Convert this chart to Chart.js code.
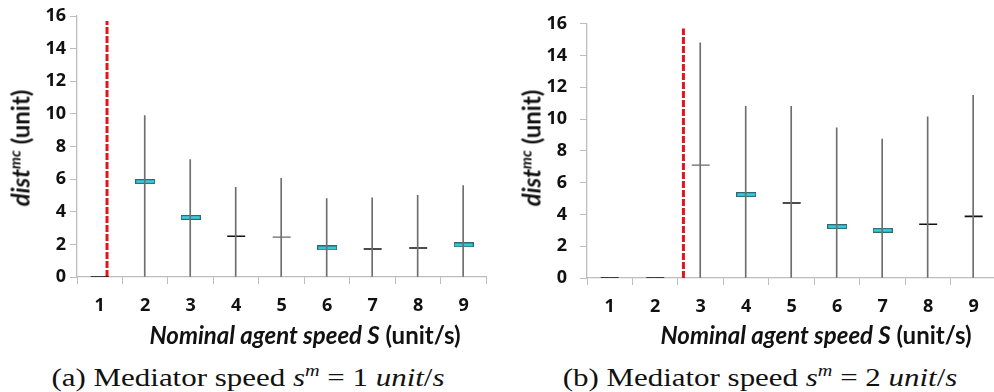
<!DOCTYPE html>
<html>
<head>
<meta charset="utf-8">
<script src="https://cdn.jsdelivr.net/npm/chart.js@4.4.1/dist/chart.umd.min.js"></script>
<style>
    html, body { margin: 0; padding: 0; background: #fff; overflow: hidden; width: 994px; height: 392px; }
    canvas { position: absolute; top: 0; }
    .txt { position: absolute; white-space: nowrap; color: #111; transform: translate(-50%, -50%); }
    .ytitle { font: bold 24px Lato, sans-serif; transform: translate(-50%, -50%) rotate(-90deg); }
    .ytitle sup { font-size: 15px; font-style: italic; }
    .xtitle { font: bold 24px Lato, sans-serif; }
    .caption { font: 26px 'Liberation Serif', serif; transform: translate(-50%, -50%) scaleX(1.19); }
    .caption sup { font-size: 17px; }
</style>
</head>
<body>
<canvas id="chartA" width="497" height="320" style="left:0"></canvas>
<canvas id="chartB" width="510" height="320" style="left:497px"></canvas>

<div class="txt ytitle" style="left:20px; top:148px"><i>dist</i><sup>mc</sup> (unit)</div>
<div class="txt ytitle" style="left:531px; top:148px"><i>dist</i><sup>mc</sup> (unit)</div>
<div class="txt xtitle" style="left:305px; top:334px"><i>Nominal agent speed S</i> (unit/s)</div>
<div class="txt xtitle" style="left:816px; top:334px"><i>Nominal agent speed S</i> (unit/s)</div>
<div class="txt caption" style="left:248px; top:377px">(a) Mediator speed <i>s</i><sup><i>m</i></sup> = 1 <i>unit</i>/<i>s</i></div>
<div class="txt caption" style="left:760px; top:377px">(b) Mediator speed <i>s</i><sup><i>m</i></sup> = 2 <i>unit</i>/<i>s</i></div>

<script>
    // nominal agent speed S
    const speeds = ['1', '2', '3', '4', '5', '6', '7', '8', '9']

    // (a) mediator speed 1 unit/s
    const maxA = [0, 9.9, 7.2, 5.5, 6.05, 4.8, 4.85, 5.0, 5.6]
    const meanA = [0, 5.85, 3.65, 2.5, 2.45, 1.78, 1.72, 1.78, 1.97]
    const markA = ['k', 'c', 'c', 'k', 'g', 'c', 'k', 'k', 'c']
    const cutA = 1.16

    // (b) mediator speed 2 unit/s
    const maxB = [0, 0, 14.8, 10.8, 10.8, 9.45, 8.75, 10.15, 11.5]
    const meanB = [0, 0, 7.1, 5.25, 4.72, 3.23, 3.0, 3.38, 3.88]
    const markB = ['k', 'k', 'g', 'c', 'k', 'c', 'c', 'k', 'k']
    const cutB = 2.62

    const cutTop = 15.7
    const yTicks = [0, 2, 4, 6, 8, 10, 12, 14, 16]

    // cyan bar with dark outline used as mean marker
    const cyanMark = (() => {
        const c = document.createElement('canvas')
        c.width = 20
        c.height = 5
        const ctx = c.getContext('2d')
        ctx.fillStyle = '#2f6a72'
        ctx.fillRect(0, 0, 20, 5)
        ctx.fillStyle = '#36d0e0'
        ctx.fillRect(1, 1.2, 18, 2.6)
        return c
    })()

    const axisColor = '#bdbdbd'
    const tickFont = { family: "'Open Sans'", size: 18, weight: 700 }

    const makeChart = (id, maxs, means, marks, cut, cfg) => {
        new Chart(document.getElementById(id), {
            type: 'bar',
            data: {
                labels: speeds,
                datasets: [
                    {
                        label: 'range',
                        data: maxs.map((v) => [0, v]),
                        backgroundColor: '#6e6e6e',
                        barThickness: 1,
                        borderWidth: 0,
                    },
                    {
                        type: 'line',
                        label: 'mean',
                        data: means,
                        showLine: false,
                        pointStyle: marks.map((m) => (m === 'c' ? cyanMark : 'line')),
                        pointRadius: 9,
                        pointBorderWidth: marks.map((m) => (m === 'g' ? 1.2 : 1.6)),
                        pointBorderColor: marks.map((m) => (m === 'g' ? '#666' : '#111')),
                    },
                    {
                        type: 'line',
                        label: 'cut',
                        xAxisID: 'xr',
                        data: [
                            { x: cut, y: 0 },
                            { x: cut, y: cutTop },
                        ],
                        borderColor: '#e3141b',
                        borderWidth: 3,
                        borderDash: [7, 2],
                        pointRadius: 0,
                    },
                ],
            },
            options: {
                responsive: false,
                animation: false,
                events: [],
                layout: { padding: { left: 0, right: cfg.padRight, top: 16, bottom: 0 } },
                plugins: { legend: { display: false }, tooltip: { enabled: false } },
                scales: {
                    x: {
                        offset: true,
                        grid: { drawOnChartArea: false, offset: true, tickLength: 7, color: axisColor },
                        border: { color: axisColor, width: 1.3 },
                        ticks: { font: tickFont, color: '#111', padding: 11 },
                        afterFit: (s) => {
                            s.height = 320 - cfg.bottom
                        },
                    },
                    xr: { type: 'linear', min: 0.5, max: 9.5, offset: false, display: false },
                    y: {
                        min: 0,
                        max: 16,
                        afterBuildTicks: (s) => {
                            s.ticks = yTicks.map((v) => ({ value: v }))
                        },
                        grid: { drawOnChartArea: false, tickLength: 7, color: axisColor },
                        border: { color: axisColor, width: 1.3 },
                        ticks: { font: tickFont, color: '#111', padding: cfg.yPad },
                        afterFit: (s) => {
                            s.width = cfg.left
                        },
                    },
                },
            },
        })
    }

    Promise.all([document.fonts.load("700 18px 'Open Sans'"), document.fonts.load('bold 24px Lato')]).then(() => {
        makeChart('chartA', maxA, meanA, markA, cutA, { left: 77, padRight: 9, bottom: 277, yPad: 4 })
        makeChart('chartB', maxB, meanB, markB, cutB, { left: 90, padRight: 7, bottom: 278, yPad: 13 })
    })
</script>
</body>
</html>
